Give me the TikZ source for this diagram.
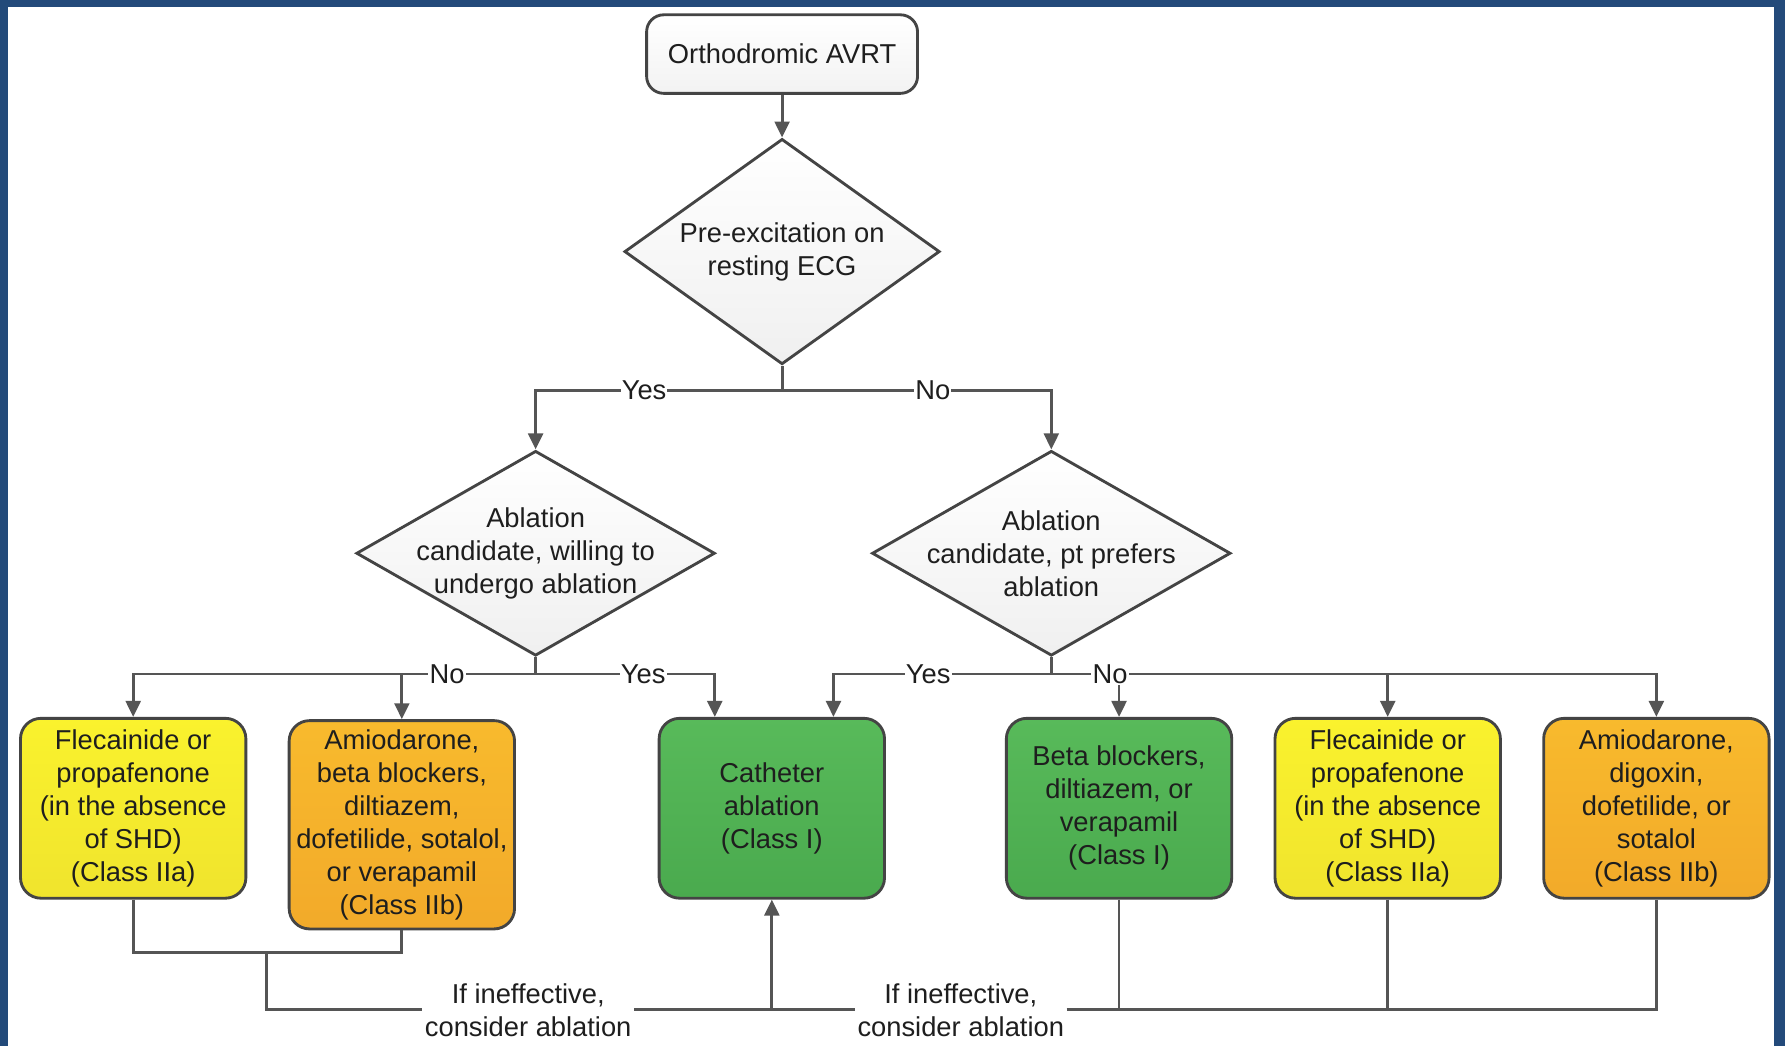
\documentclass[tikz,border=0pt]{standalone}
\usepackage{fontspec}
\setmainfont{Liberation Sans}
\usetikzlibrary{shapes.geometric,arrows.meta,calc}
\definecolor{framec}{RGB}{35,74,122}
\definecolor{linec}{RGB}{85,85,85}
\definecolor{edgec}{RGB}{68,68,68}
\definecolor{yelT}{RGB}{250,242,45}
\definecolor{yelB}{RGB}{240,228,45}
\definecolor{orT}{RGB}{248,186,45}
\definecolor{orB}{RGB}{242,170,42}
\definecolor{grT}{RGB}{88,186,90}
\definecolor{grB}{RGB}{74,170,78}
\definecolor{txtc}{RGB}{30,30,30}
\begin{document}
\begin{tikzpicture}[x=1pt,y=-1pt,
  font=\fontsize{24}{29}\selectfont, text=txtc,
  box/.style={draw=edgec, line width=2.5pt, rounded corners=18pt, minimum width=198pt, minimum height=158pt, align=center, inner sep=0pt},
  yelbox/.style={box, top color=yelT, bottom color=yelB},
  orbox/.style={box, top color=orT, bottom color=orB},
  grbox/.style={box, top color=grT, bottom color=grB},
  startbox/.style={draw=edgec, line width=2.5pt, rounded corners=15pt, minimum width=238pt, minimum height=69pt, align=center, inner sep=0pt, top color=white, bottom color=gray!10},
  dia/.style={diamond, draw=edgec, line width=2.5pt, top color=white, bottom color=gray!12, inner sep=0pt},
  conn/.style={draw=linec, line width=2.5pt},
  arr/.style={conn, -{Triangle[length=14pt,width=13pt]}},
  lbl/.style={fill=white, inner sep=1pt, text=txtc},
  note/.style={align=center, inner sep=2pt, fill=white}
]
\useasboundingbox (0,0) rectangle (1568,919);
\fill[framec] (0,0) rectangle (1568,919);
\fill[white] (7,6) rectangle (1558,919);

% nodes
\node[startbox] (top) at (687,47.5) {Orthodromic AVRT};
\node[dia, minimum width=277pt, minimum height=198pt,
  label={[align=center]center:{Pre-excitation on\\resting ECG}}] (d1) at (687,221) {};
\node[dia, minimum width=315pt, minimum height=180pt,
  label={[align=center]center:{Ablation\\candidate, willing to\\undergo ablation}}] (d2) at (470.5,486) {};
\node[dia, minimum width=315pt, minimum height=180pt,
  label={[align=center]center:{Ablation\\candidate, pt prefers\\ablation}}] (d3) at (923.5,486) {};

\node[yelbox] (b1) at (117,710) {Flecainide or\\propafenone\\(in the absence\\of SHD)\\(Class IIa)};
\node[orbox, minimum height=183pt] (b2) at (353,724.5) {Amiodarone,\\beta blockers,\\diltiazem,\\dofetilide, sotalol,\\or verapamil\\(Class IIb)};
\node[grbox] (b3) at (678,710) {Catheter\\ablation\\(Class I)};
\node[grbox] (b4) at (983,710) {Beta blockers,\\diltiazem, or\\verapamil\\(Class I)};
\node[yelbox] (b5) at (1219,710) {Flecainide or\\propafenone\\(in the absence\\of SHD)\\(Class IIa)};
\node[orbox] (b6) at (1455,710) {Amiodarone,\\digoxin,\\dofetilide, or\\sotalol\\(Class IIb)};

\node[note] (t1) at (464,887) {If ineffective,\\consider ablation};
\node[note] (t2) at (844,887) {If ineffective,\\consider ablation};

\coordinate (j1) at (687,343);
\coordinate (j2) at (470.5,592);
\coordinate (j3) at (923.5,592);
\coordinate (m1) at (234,837);
\coordinate (b3in1) at ($(b3.north west)!0.25!(b3.north east)$);
\coordinate (b3in2) at ($(b3.north west)!0.77!(b3.north east)$);

% top
\draw[arr] (top) -- (d1);
\draw[conn] (d1.south) -- (j1);
\draw[arr] (j1) -- node[lbl,pos=0.56]{Yes} (j1 -| d2.north) -- (d2.north);
\draw[arr] (j1) -- node[lbl,pos=0.56]{No} (j1 -| d3.north) -- (d3.north);

% left decision
\draw[conn] (d2.south) -- (j2);
\draw[arr] (j2 -| b2.north) -- (b2.north);
\draw[arr] (j2) -- node[lbl,pos=0.22]{No} (j2 -| b1.north) -- (b1.north);
\draw[arr] (j2) -- node[lbl,pos=0.6]{Yes} (j2 -| b3in1) -- (b3in1);

% right decision
\draw[conn] (d3.south) -- (j3);
\draw[arr] (j3) -- node[lbl,pos=0.565]{Yes} (j3 -| b3in2) -- (b3in2);
\draw[arr] (j3 -| b4.north) -- (b4.north);
\draw[arr] (j3 -| b5.north) -- (b5.north);
\draw[arr] (j3) -- node[lbl,pos=0.097]{No} (j3 -| b6.north) -- (b6.north);

% bottom
\draw[conn] (b1.south) |- (m1) -| (b2.south);
\draw[conn] (m1) |- (t1.west);
\draw[conn] (t1.east) -- (t2.west);
\draw[arr] (t1.east -| b3.south) -- (b3.south);
\draw[conn] (t2.east) -| (b6.south);
\draw[conn] (b4.south) -- (b4.south |- t2.east);
\draw[conn] (b5.south) -- (b5.south |- t2.east);
\end{tikzpicture}
\end{document}
